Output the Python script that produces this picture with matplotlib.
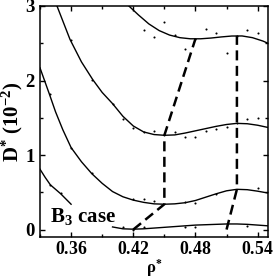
import matplotlib
matplotlib.use('Agg')
import matplotlib.pyplot as plt
from matplotlib.ticker import MultipleLocator

plt.rcParams['font.family'] = ['Liberation Serif', 'DejaVu Serif']
plt.rcParams['font.weight'] = 'bold'
plt.rcParams['mathtext.fontset'] = 'custom'
plt.rcParams['mathtext.rm'] = 'Liberation Serif'
plt.rcParams['mathtext.it'] = 'Liberation Serif:italic'
plt.rcParams['mathtext.bf'] = 'Liberation Serif:bold'

# fitted curves
rho_a = [0.415, 0.425, 0.435, 0.445, 0.455, 0.465, 0.475, 0.485, 0.495, 0.505, 0.515, 0.525, 0.535, 0.545, 0.55]
d_a = [3.01, 2.88, 2.76, 2.67, 2.61, 2.575, 2.56, 2.56, 2.57, 2.585, 2.597, 2.598, 2.575, 2.53, 2.50]

rho_b = [0.3464, 0.352, 0.359, 0.37, 0.381, 0.39, 0.40, 0.41, 0.42, 0.43, 0.44, 0.45, 0.46, 0.47,
         0.48, 0.49, 0.50, 0.51, 0.52, 0.53, 0.54, 0.55]
d_b = [3.0, 2.80, 2.55, 2.25, 2.01, 1.84, 1.69, 1.52, 1.39, 1.31, 1.275, 1.265, 1.27, 1.295,
       1.325, 1.355, 1.385, 1.41, 1.425, 1.42, 1.40, 1.37]

rho_c = [0.33, 0.339, 0.345, 0.352, 0.36, 0.37, 0.38, 0.39, 0.40, 0.41, 0.42, 0.43, 0.44, 0.45,
         0.46, 0.47, 0.48, 0.49, 0.50, 0.51, 0.52, 0.53, 0.54, 0.55]
d_c = [2.17, 1.82, 1.58, 1.34, 1.10, 0.91, 0.75, 0.62, 0.51, 0.44, 0.395, 0.365, 0.345, 0.34,
       0.345, 0.36, 0.39, 0.435, 0.48, 0.52, 0.54, 0.535, 0.515, 0.49]

rho_d = [0.33, 0.335, 0.34, 0.345, 0.35, 0.355, 0.36]
d_d = [0.81, 0.70, 0.60, 0.54, 0.48, 0.41, 0.34]

rho_e = [0.40, 0.41, 0.42, 0.43, 0.44, 0.45, 0.46, 0.47, 0.48, 0.49, 0.50, 0.51, 0.52, 0.53, 0.54, 0.55]
d_e = [0.035, 0.01, 0.005, 0.01, 0.02, 0.03, 0.04, 0.05, 0.06, 0.065, 0.07, 0.075, 0.075, 0.07, 0.06, 0.05]

# simulation points
pts_rho = [0.43, 0.44, 0.45, 0.46, 0.47, 0.48, 0.49, 0.50, 0.51, 0.52, 0.53, 0.54,
           0.36, 0.38, 0.40, 0.41, 0.42, 0.43, 0.44, 0.45, 0.46, 0.47, 0.48, 0.49, 0.50, 0.51, 0.52, 0.53, 0.54,
           0.34, 0.36, 0.38, 0.42, 0.43, 0.44, 0.47, 0.48, 0.50, 0.54,
           0.34, 0.35,
           0.41, 0.42, 0.43, 0.47, 0.48, 0.53]
pts_d = [2.68, 2.58, 2.79, 2.61, 2.42, 2.56, 2.69, 2.64, 2.37, 2.60, 2.68, 2.64,
         2.54, 2.01, 1.69, 1.48, 1.36, 1.31, 1.32, 1.27, 1.31, 1.24, 1.24, 1.32, 1.35, 1.38, 1.43, 1.48, 1.50,
         1.82, 1.09, 0.76, 0.41, 0.41, 0.38, 0.37, 0.36, 0.48, 0.56,
         0.60, 0.49,
         0.03, 0.0, 0.03, 0.03, 0.04, 0.05]

# dashed guide lines through minima / maxima
min_rho = [0.42, 0.45, 0.45, 0.48]
min_d = [0.0, 0.34, 1.265, 2.56]
max_rho = [0.51, 0.52, 0.52]
max_d = [0.0, 0.54, 2.60]

xticks = [0.36, 0.42, 0.48, 0.54]
xtick_labels = ['0.36', '0.42', '0.48', '0.54']
yticks = [0, 1, 2, 3]
ytick_labels = ['0', '1', '2', '3']

fig = plt.figure(figsize=(2.73, 2.79), dpi=100)
ax = fig.add_axes([0.1465, 0.1505, 0.8352, 0.828])

for r, d in [(rho_a, d_a), (rho_b, d_b), (rho_c, d_c), (rho_d, d_d), (rho_e, d_e)]:
    ax.plot(r, d, color='black', lw=1.0)
ax.plot(pts_rho, pts_d, 'o', color='black', ms=1.5, mec='none')
ax.plot(min_rho, min_d, color='black', lw=1.8, dashes=(4, 2.2))
ax.plot(max_rho, max_d, color='black', lw=1.8, dashes=(4, 2.2))

ax.text(0.3397, 0.10, r'$\mathbf{B_3\ case}$', fontsize=15, ha='left', va='baseline')

ax.set_xlim(0.33, 0.55)
ax.set_ylim(-0.1, 3.0)
ax.xaxis.set_minor_locator(MultipleLocator(0.03))
ax.yaxis.set_minor_locator(MultipleLocator(0.5))
ax.set_xticks(xticks)
ax.set_xticklabels([r'$\mathbf{%s}$' % t for t in xtick_labels], fontsize=12.8)
ax.set_yticks(yticks)
ax.set_yticklabels([r'$\mathbf{%s}$' % t for t in ytick_labels], fontsize=13.5)
ax.tick_params(which='both', direction='in', top=True, right=True, width=1.0)
ax.tick_params(which='major', length=3.5, pad=3)
ax.tick_params(which='minor', length=2.5)
for s in ax.spines.values():
    s.set_linewidth(1.1)

ax.set_ylabel(r'$\mathbf{D^{*}\ (10^{-2})}$', fontsize=15)
ax.yaxis.set_label_coords(-0.065, 0.5)
ax.set_xlabel(r'$\mathrm{\rho}^{*}$', fontsize=12, labelpad=-1)

fig.savefig('out.png', dpi=100)
